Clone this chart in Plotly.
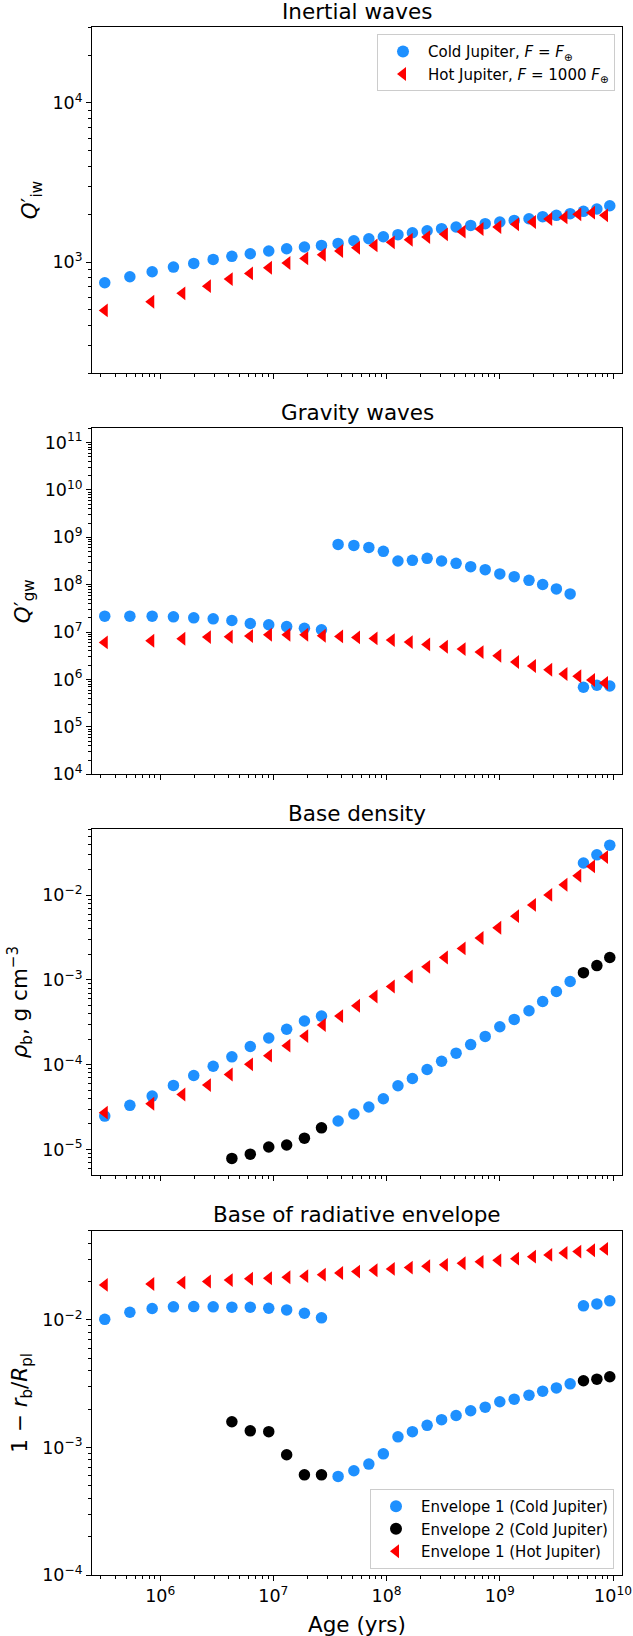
import math
import plotly.graph_objects as go

# ---------------- data ----------------
age_cold = [3.24e5, 5.4e5, 8.5e5, 1.31e6, 1.98e6, 2.94e6, 4.3e6, 6.25e6, 9.1e6, 1.31e7,
            1.88e7, 2.66e7, 3.73e7, 5.14e7, 6.97e7, 9.36e7, 1.26e8, 1.69e8, 2.28e8, 3.06e8,
            4.11e8, 5.53e8, 7.43e8, 1.0e9, 1.34e9, 1.81e9, 2.39e9, 3.16e9, 4.18e9, 5.48e9,
            7.2e9, 9.36e9]
age_hot = [3.24e5, 8.34e5, 1.57e6, 2.64e6, 4.11e6, 6.21e6, 9.14e6, 1.33e7, 1.91e7, 2.73e7,
           3.88e7, 5.48e7, 7.82e7, 1.11e8, 1.60e8, 2.28e8, 3.27e8, 4.69e8, 6.75e8, 9.68e8,
           1.39e9, 1.96e9, 2.73e9, 3.72e9, 4.93e9, 6.52e9, 8.49e9]
age_env2 = [4.3e6, 6.25e6, 9.1e6, 1.31e7, 1.88e7, 2.66e7, 5.48e9, 7.2e9, 9.36e9]

q_iw_cold = [741, 809, 869, 930, 981, 1039, 1086, 1128, 1173, 1213, 1243, 1273, 1310, 1362,
             1402, 1443, 1486, 1529, 1574, 1621, 1660, 1700, 1743, 1785, 1828, 1873, 1929,
             1967, 2015, 2084, 2155, 2260]
q_iw_hot = [497, 563, 636, 706, 782, 849, 921, 986, 1054, 1112, 1173, 1231, 1273, 1330, 1381,
            1436, 1493, 1552, 1613, 1660, 1726, 1785, 1864, 1908, 1995, 2044, 1967]

q_gw_cold = [2.17e7, 2.17e7, 2.17e7, 2.1e7, 2.0e7, 1.91e7, 1.76e7, 1.52e7, 1.43e7, 1.31e7,
             1.21e7, 1.12e7, 7.1e8, 6.76e8, 6.14e8, 5.06e8, 3.17e8, 3.27e8, 3.61e8, 3.17e8,
             2.83e8, 2.41e8, 2.08e8, 1.69e8, 1.48e8, 1.24e8, 1.01e8, 8.17e7, 6.4e7, 6.86e5,
             7.55e5, 7.3e5]
q_gw_hot = [6.06e6, 6.58e6, 7.24e6, 7.85e6, 7.98e6, 8.24e6, 8.79e6, 8.79e6, 8.79e6, 8.37e6,
            8.11e6, 7.73e6, 7.36e6, 6.79e6, 6.16e6, 5.51e6, 4.91e6, 4.39e6, 3.79e6, 3.18e6,
            2.34e6, 1.93e6, 1.61e6, 1.31e6, 1.17e6, 9.78e5, 8.45e5]

rho_env1_cold = [2.48e-5, 3.32e-5, 4.27e-5, 5.7e-5, 7.47e-5, 9.6e-5, 1.24e-4, 1.64e-4, 2.07e-4,
                 2.62e-4, 3.28e-4, 3.75e-4, 2.17e-5, 2.62e-5, 3.17e-5, 3.97e-5, 5.65e-5,
                 6.89e-5, 8.79e-5, 1.10e-4, 1.37e-4, 1.73e-4, 2.16e-4, 2.81e-4, 3.43e-4,
                 4.33e-4, 5.58e-4, 7.31e-4, 9.6e-4, 0.024, 0.030, 0.039]
rho_env2_cold = [7.84e-6, 8.8e-6, 1.07e-5, 1.13e-5, 1.36e-5, 1.80e-5, 1.22e-3, 1.48e-3, 1.84e-3]
rho_hot = [2.72e-5, 3.47e-5, 4.46e-5, 5.75e-5, 7.68e-5, 1.01e-4, 1.28e-4, 1.68e-4, 2.18e-4,
           2.94e-4, 3.75e-4, 4.96e-4, 6.38e-4, 8.37e-4, 1.10e-3, 1.43e-3, 1.84e-3, 2.36e-3,
           3.13e-3, 4.13e-3, 5.67e-3, 7.69e-3, 1.01e-2, 1.33e-2, 1.70e-2, 2.19e-2, 2.82e-2]

depth_env1_cold = [0.0101, 0.01148, 0.01227, 0.01265, 0.0127, 0.01265, 0.01257, 0.01257,
                   0.01234, 0.01197, 0.01127, 0.01037, 5.93e-4, 6.56e-4, 7.4e-4, 8.91e-4,
                   1.21e-3, 1.33e-3, 1.49e-3, 1.65e-3, 1.78e-3, 1.94e-3, 2.07e-3, 2.28e-3,
                   2.39e-3, 2.57e-3, 2.76e-3, 2.93e-3, 3.15e-3, 0.01288, 0.01334, 0.01409]
depth_env2_cold = [1.59e-3, 1.35e-3, 1.33e-3, 8.77e-4, 6.1e-4, 6.1e-4, 3.33e-3, 3.43e-3, 3.58e-3]
depth_hot = [0.0188, 0.0191, 0.0196, 0.0200, 0.0205, 0.0210, 0.0212, 0.0216, 0.0220, 0.0226,
             0.0233, 0.0239, 0.0245, 0.0251, 0.0257, 0.0263, 0.0270, 0.0278, 0.0285, 0.0293,
             0.0302, 0.0313, 0.0323, 0.0335, 0.0343, 0.0351, 0.0360]

panel_titles = ["Inertial waves", "Gravity waves", "Base density", "Base of radiative envelope"]
y_titles = ["<i>Q</i>′<sub>iw</sub>", "<i>Q</i>′<sub>gw</sub>",
            "<i>ρ</i><sub>b</sub>, g cm<sup>−3</sup>",
            "1 − <i>r</i><sub>b</sub>/<i>R</i><sub>pl</sub>"]
x_title = "Age (yrs)"
legend1_names = ["Cold Jupiter, <i>F</i> = <i>F</i><sub>⊕</sub>",
                 "Hot Jupiter, <i>F</i> = 1000 <i>F</i><sub>⊕</sub>"]
legend2_names = ["Envelope 1 (Cold Jupiter)", "Envelope 2 (Cold Jupiter)",
                 "Envelope 1 (Hot Jupiter)"]

x_exps = [6, 7, 8, 9, 10]
y_exps = [[3, 4], [4, 5, 6, 7, 8, 9, 10, 11], [-5, -4, -3, -2], [-4, -3, -2]]
x_range = [2.5e5, 1.2e10]
y_ranges = [[2e2, 3e4], [1e4, 2e11], [5e-6, 6e-2], [1e-4, 5e-2]]

# ---------------- style ----------------
BLUE = "#1e90ff"
RED = "#ff0000"
BLACK = "#000000"
FONT = "DejaVu Sans"
W, H = 633, 1636
ML, MR, MT, MB = 92, 11, 27, 61
TICK_SIZE = 17.5
LEG_SIZE = 15
TITLE_SIZE = 21.5


def frac(ypix):
    return (H - MB - ypix) / (H - MT - MB)


def xfrac(xpix):
    return (xpix - ML) / (W - ML - MR)


panel_px = [(26.7, 373.3), (428.3, 774.3), (829.3, 1175.0), (1230.7, 1575.0)]
domains = [[max(0.0, frac(b)), min(1.0, frac(t))] for t, b in panel_px]


def sup_label(e):
    s = str(e).replace("-", "−")
    return "10<sup>%s</sup>" % s


def minor_vals(lo, hi):
    out = []
    for d in range(int(math.floor(math.log10(lo))) - 1, int(math.ceil(math.log10(hi))) + 1):
        for k in range(2, 10):
            v = k * 10.0 ** d
            if lo <= v <= hi:
                out.append(v)
    return out


fig = go.Figure()

circ = dict(symbol="circle", size=11.5, line=dict(width=0))
tri = dict(symbol="triangle-left", size=12, line=dict(width=0))

panels = [
    [(age_cold, q_iw_cold, BLUE, circ, legend1_names[0]),
     (age_hot, q_iw_hot, RED, tri, legend1_names[1])],
    [(age_cold, q_gw_cold, BLUE, circ, None),
     (age_hot, q_gw_hot, RED, tri, None)],
    [(age_cold, rho_env1_cold, BLUE, circ, None),
     (age_env2, rho_env2_cold, BLACK, circ, None),
     (age_hot, rho_hot, RED, tri, None)],
    [(age_cold, depth_env1_cold, BLUE, circ, legend2_names[0]),
     (age_env2, depth_env2_cold, BLACK, circ, legend2_names[1]),
     (age_hot, depth_hot, RED, tri, legend2_names[2])],
]

for i, traces in enumerate(panels):
    ax = "" if i == 0 else str(i + 1)
    for (xs, ys, col, mk, name) in traces:
        fig.add_trace(go.Scatter(
            x=xs, y=ys, mode="markers",
            marker=dict(color=col, **mk),
            name=name if name else "",
            showlegend=name is not None,
            legend="legend" if i == 0 else "legend2",
            xaxis="x" + ax, yaxis="y" + ax,
            hoverinfo="x+y",
        ))

axis_common = dict(
    type="log", showline=True, linecolor="#000000", linewidth=1, mirror=True,
    ticks="outside", ticklen=5, tickwidth=1, tickcolor="#000000",
    showgrid=False, zeroline=False, automargin=False,
    tickfont=dict(family=FONT, size=TICK_SIZE, color="#000000"),
)

legend_common = dict(
    xanchor="right", bgcolor="white", bordercolor="#cccccc", borderwidth=1,
    font=dict(family=FONT, size=LEG_SIZE, color="#000000"),
    itemsizing="constant", tracegroupgap=0, itemwidth=40,
)

layout = dict(
    width=W, height=H,
    margin=dict(l=ML, r=MR, t=MT, b=MB),
    paper_bgcolor="white", plot_bgcolor="white",
    font=dict(family=FONT, color="#000000"),
    legend=dict(legend_common, x=xfrac(615), y=frac(34.3), yanchor="top"),
    legend2=dict(legend_common, x=xfrac(614), y=frac(1569), yanchor="bottom"),
)

annotations = []
for i in range(4):
    ax = "" if i == 0 else str(i + 1)
    lo, hi = y_ranges[i]
    layout["xaxis" + ax] = dict(
        axis_common,
        domain=[0, 1], anchor="y" + ax,
        range=[math.log10(x_range[0]), math.log10(x_range[1])],
        tickmode="array", tickvals=[10.0 ** e for e in x_exps],
        ticktext=[sup_label(e) for e in x_exps],
        showticklabels=(i == 3),
        minor=dict(tickmode="array", tickvals=minor_vals(*x_range), ticks="outside",
                   ticklen=3, tickwidth=1, tickcolor="#000000"),
    )
    layout["yaxis" + ax] = dict(
        axis_common,
        domain=domains[i], anchor="x" + ax,
        range=[math.log10(lo), math.log10(hi)],
        tickmode="array", tickvals=[10.0 ** e for e in y_exps[i]],
        ticktext=[sup_label(e) for e in y_exps[i]],
        minor=dict(tickmode="array", tickvals=minor_vals(lo, hi), ticks="outside",
                   ticklen=3, tickwidth=1, tickcolor="#000000"),
        title=dict(text=y_titles[i], font=dict(family=FONT, size=TITLE_SIZE, color="#000000"),
                   standoff=8),
    )
    annotations.append(dict(
        text=panel_titles[i], xref="paper", yref="paper", x=0.5, y=domains[i][1],
        xanchor="center", yanchor="middle", yshift=16, showarrow=False,
        font=dict(family=FONT, size=TITLE_SIZE, color="#000000"),
    ))

annotations.append(dict(
    text=x_title, xref="paper", yref="paper", x=0.5, y=0, xanchor="center",
    yanchor="middle", yshift=-49, showarrow=False,
    font=dict(family=FONT, size=TITLE_SIZE, color="#000000"),
))
layout["annotations"] = annotations

fig.update_layout(**layout)
fig.write_html("out.html", config={"displayModeBar": False},
               post_script="document.body.style.margin='0px';")
